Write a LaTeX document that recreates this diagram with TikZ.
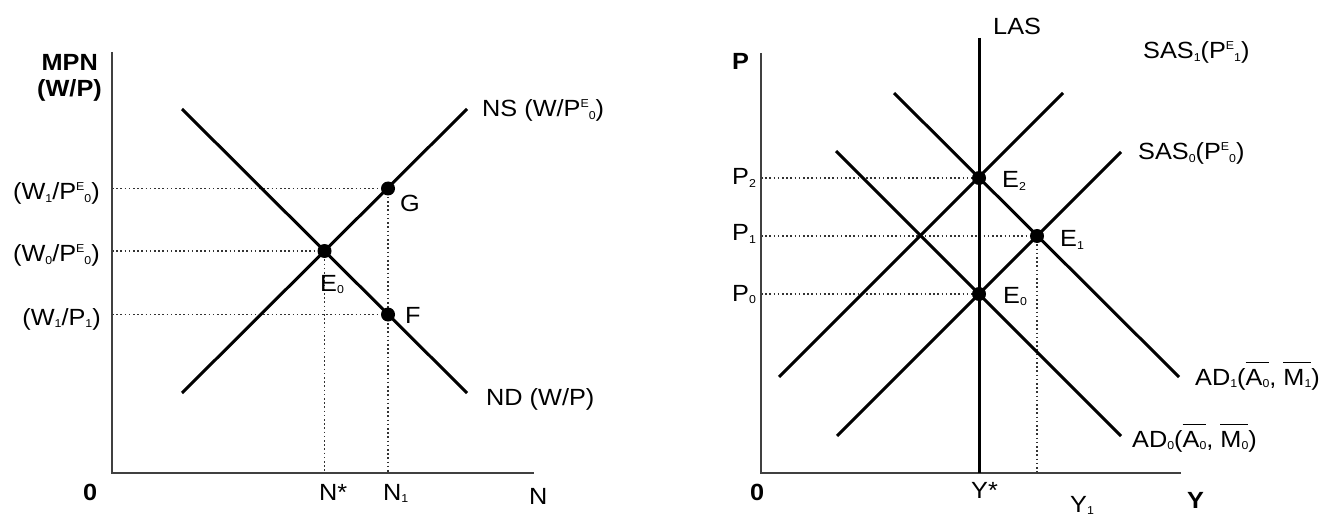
\documentclass[tikz,border=0pt]{standalone}
\usepackage{fontspec}
\setmainfont[FakeStretch=1.08]{Liberation Sans}
\newcommand\sbx[1]{\raisebox{-2.5bp}{\fontsize{11.5}{12}\selectfont #1}}
\newcommand\spx[1]{\raisebox{9bp}{\fontsize{11.5}{12}\selectfont #1}}
\newcommand\ovl[1]{\vbox{\hrule height 1.4bp\kern 5.5bp\hbox{#1}}}
\begin{document}
\begin{tikzpicture}[x=1bp,y=-1bp,
  curve/.style={line width=3bp, draw=black},
  axisline/.style={line width=2bp, draw=black!75},
  guide/.style={line width=1.7bp, draw=black!80, dash pattern=on 1.6bp off 2.6bp},
  eqdot/.style={circle, fill=black, inner sep=0pt, minimum size=14bp},
  lbl/.style={inner sep=0pt, font=\fontsize{23.5}{27}\selectfont},
  blbl/.style={inner sep=0pt, font=\fontsize{23.5}{27}\selectfont\bfseries}]
\useasboundingbox (0,0) rectangle (1324,516);

% ---------------- left panel ----------------
\coordinate (LO) at (112,473);
\coordinate (LYt) at (112,52);
\coordinate (LXe) at (534,473);
\coordinate (NSa) at (182,393);
\coordinate (NSb) at (467,109);
\coordinate (NDa) at (182,109);
\coordinate (NDb) at (467,393);
\coordinate (pE0L) at (324.5,251);
\coordinate (pG) at (388,188.5);
\coordinate (pF) at (388,314.5);

\draw[guide] (LO |- pG) -- (pG);
\draw[guide] (LO |- pE0L) -- (pE0L);
\draw[guide] (LO |- pF) -- (pF);
\draw[guide] (pE0L) -- (pE0L |- LO);
\draw[guide] (pG) -- (pG |- LO);
\draw[axisline] (LYt) -- (LO) -- (LXe);
\draw[curve] (NSa) -- (NSb);
\draw[curve] (NDa) -- (NDb);
\node[eqdot] (dE0L) at (pE0L) {};
\node[eqdot] (dG) at (pG) {};
\node[eqdot] (dF) at (pF) {};

\node[blbl, anchor=base east] (mpn) at (98,71) {MPN};
\node[blbl, anchor=base east] (wp) at (102,97) {(W/P)};
\node[lbl, anchor=base east] (w1pe) at (100,200) {(W\sbx{1}/P\spx{E}\sbx{0})};
\node[lbl, anchor=base east] (w0pe) at (100,262) {(W\sbx{0}/P\spx{E}\sbx{0})};
\node[lbl, anchor=base east] (w1p1) at (101,325) {(W\sbx{1}/P\sbx{1})};
\node[lbl, anchor=base west] (nsl) at (482,117) {NS (W/P\spx{E}\sbx{0})};
\node[lbl, anchor=base west] (ndl) at (486,405) {ND (W/P)};
\node[lbl, anchor=base west] (gl) at (400,212) {G};
\node[lbl, anchor=base west] (fl) at (405,323) {F};
\node[lbl, anchor=base west] (e0l) at (320,291) {E\sbx{0}};
\node[blbl, anchor=base west] (zl) at (83,500) {0};
\node[lbl, anchor=base west] (nstar) at (319,500) {N*};
\node[lbl, anchor=base west] (n1) at (383,500) {N\sbx{1}};
\node[lbl, anchor=base west] (nl) at (529,504) {N};

% ---------------- right panel ----------------
\coordinate (RO) at (761,473);
\coordinate (RYt) at (761,53);
\coordinate (RXe) at (1181,473);
\coordinate (LASt) at (979,38);
\coordinate (LASb) at (979,473);
\coordinate (S1a) at (779,377);
\coordinate (S1b) at (1063,93);
\coordinate (A1a) at (894,93);
\coordinate (A1b) at (1179,377);
\coordinate (S0a) at (837,436);
\coordinate (S0b) at (1121,152);
\coordinate (A0a) at (836,151);
\coordinate (A0b) at (1121,436);
\coordinate (pE2) at (979,178);
\coordinate (pE1) at (1037,236);
\coordinate (pE0R) at (979,294);

\draw[guide] (RO |- pE2) -- (pE2);
\draw[guide] (RO |- pE1) -- (pE1);
\draw[guide] (RO |- pE0R) -- (pE0R);
\draw[guide] (pE1) -- (pE1 |- RO);
\draw[axisline] (RYt) -- (RO) -- (RXe);
\draw[curve] (LASt) -- (LASb);
\draw[curve] (S1a) -- (S1b);
\draw[curve] (A1a) -- (A1b);
\draw[curve] (S0a) -- (S0b);
\draw[curve] (A0a) -- (A0b);
\node[eqdot] (dE2) at (pE2) {};
\node[eqdot] (dE1) at (pE1) {};
\node[eqdot] (dE0R) at (pE0R) {};

\node[blbl, anchor=base west] (pax) at (732,70) {P};
\node[lbl, anchor=base west] (p2l) at (732,185) {P\sbx{2}};
\node[lbl, anchor=base west] (p1l) at (732,241) {P\sbx{1}};
\node[lbl, anchor=base west] (p0l) at (732,301) {P\sbx{0}};
\node[lbl, anchor=base west] (lasl) at (993,35) {LAS};
\node[lbl, anchor=base west] (e2l) at (1002,188) {E\sbx{2}};
\node[lbl, anchor=base west] (e1l) at (1060,247) {E\sbx{1}};
\node[lbl, anchor=base west] (e0rl) at (1003,303) {E\sbx{0}};
\node[lbl, anchor=base west] (sas1l) at (1143,59) {SAS\sbx{1}(P\spx{E}\sbx{1})};
\node[lbl, anchor=base west] (sas0l) at (1138,160) {SAS\sbx{0}(P\spx{E}\sbx{0})};
\node[lbl, anchor=base west] (ad1l) at (1195,385) {AD\sbx{1}(\ovl{A\sbx{0}}, \ovl{M\sbx{1}})};
\node[lbl, anchor=base west] (ad0l) at (1132,447) {AD\sbx{0}(\ovl{A\sbx{0}}, \ovl{M\sbx{0}})};
\node[blbl, anchor=base west] (zr) at (750,500) {0};
\node[lbl, anchor=base west] (ystar) at (971,498) {Y*};
\node[lbl, anchor=base west] (y1l) at (1070,512) {Y\sbx{1}};
\node[blbl, anchor=base west] (yax) at (1187,508) {Y};
\end{tikzpicture}
\end{document}
